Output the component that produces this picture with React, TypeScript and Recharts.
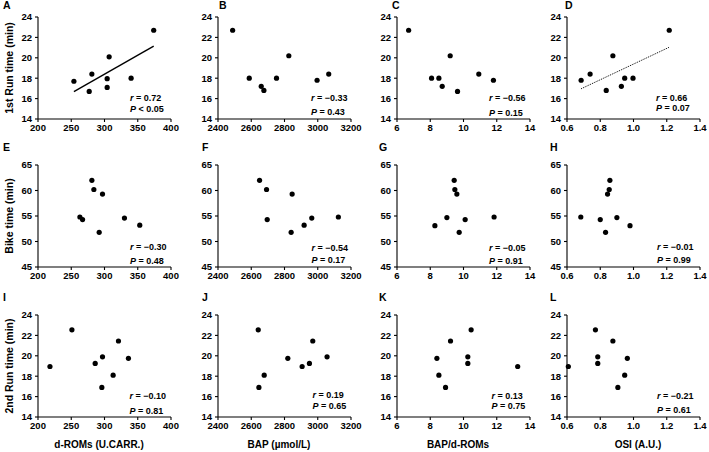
import React from 'react';
import { ScatterChart, Scatter, XAxis, YAxis, ReferenceLine } from 'recharts';

// ---- tick labels ----
const dromsTicks = [200, 250, 300, 350, 400];
const bapTicks = [2400, 2600, 2800, 3000, 3200];
const ratioTicks = [6, 8, 10, 12, 14];
const osiTicks = [0.6, 0.8, 1.0, 1.2, 1.4];
const runTicks = [14, 16, 18, 20, 22, 24];
const bikeTicks = [45, 50, 55, 60, 65];

// ---- row 1: 1st Run time ----
const dromsA = [254, 277, 281, 304, 304, 307, 340, 374];
const run1A = [17.7, 16.7, 18.4, 17.95, 17.1, 20.1, 18.0, 22.7];
const bapB = [2488, 2588, 2660, 2676, 2752, 2826, 2996, 3066];
const run1B = [22.7, 18.0, 17.2, 16.8, 18.0, 20.2, 17.8, 18.4];
const ratioC = [6.7, 8.08, 8.52, 8.72, 9.2, 9.64, 10.92, 11.8];
const run1C = [22.7, 18.0, 18.0, 17.2, 20.2, 16.7, 18.4, 17.8];
const osiD = [0.685, 0.739, 0.836, 0.876, 0.927, 0.947, 0.997, 1.215];
const run1D = [17.8, 18.4, 16.8, 20.2, 17.2, 18.0, 18.0, 22.7];

// ---- row 2: Bike time ----
const dromsE = [263, 267, 281, 284, 292, 297, 330, 353];
const bikeE = [54.8, 54.3, 62.0, 60.2, 51.8, 59.3, 54.6, 53.2];
const bapF = [2650, 2692, 2696, 2840, 2846, 2918, 2964, 3124];
const bikeF = [62.0, 60.2, 54.3, 51.8, 59.3, 53.2, 54.6, 54.8];
const ratioG = [8.28, 9.0, 9.44, 9.48, 9.6, 9.74, 10.1, 11.84];
const bikeG = [53.1, 54.7, 62.0, 60.2, 59.3, 51.8, 54.3, 54.8];
const osiH = [0.683, 0.8, 0.832, 0.844, 0.854, 0.858, 0.9, 0.979];
const bikeH = [54.8, 54.3, 51.8, 59.3, 60.2, 62.0, 54.7, 53.1];

// ---- row 3: 2nd Run time ----
const dromsI = [218, 251, 286, 297, 296, 313, 321, 336];
const run2I = [18.95, 22.55, 19.25, 19.9, 16.9, 18.1, 21.45, 19.75];
const bapJ = [2642, 2646, 2678, 2820, 2906, 2950, 2970, 3056];
const run2J = [22.55, 16.9, 18.1, 19.75, 18.95, 19.25, 21.45, 19.9];
const ratioK = [8.4, 8.52, 8.92, 9.22, 10.26, 10.26, 10.46, 13.26];
const run2K = [19.75, 18.1, 16.9, 21.45, 19.9, 19.25, 22.55, 18.95];
const osiL = [0.608, 0.771, 0.785, 0.785, 0.876, 0.906, 0.947, 0.963];
const run2L = [18.95, 22.55, 19.9, 19.25, 21.45, 16.9, 18.1, 19.75];

// ---- statistics text ----
const panelLetters = ['A', 'B', 'C', 'D', 'E', 'F', 'G', 'H', 'I', 'J', 'K', 'L'];
const rValues = ['0.72', '−0.33', '−0.56', '0.66', '−0.30', '−0.54', '−0.05', '−0.01', '−0.10', '0.19', '0.13', '−0.21'];
const pOps = ['<', '=', '=', '=', '=', '=', '=', '=', '=', '=', '=', '='];
const pValues = ['0.05', '0.43', '0.15', '0.07', '0.48', '0.17', '0.91', '0.99', '0.81', '0.65', '0.75', '0.61'];
const fits = ['solid', null, null, 'dotted', null, null, null, null, null, null, null, null];

const yTitles = ['1st Run time (min)', 'Bike time (min)', '2nd Run time (min)'];
const xTitles = ['d-ROMs (U.CARR.)', 'BAP (µmol/L)', 'BAP/d-ROMs', 'OSI (A.U.)'];

const panelData = [
  [dromsA, run1A], [bapB, run1B], [ratioC, run1C], [osiD, run1D],
  [dromsE, bikeE], [bapF, bikeF], [ratioG, bikeG], [osiH, bikeH],
  [dromsI, run2I], [bapJ, run2J], [ratioK, run2K], [osiL, run2L],
];
const colXTicks = [dromsTicks, bapTicks, ratioTicks, osiTicks];
const rowYTicks = [runTicks, bikeTicks, runTicks];
const colXDec = [0, 0, 0, 1];

// ---- layout ----
const FONT = '"Liberation Sans", Arial, Helvetica, sans-serif';
const colLeft = [38, 218, 397, 567];
const PW = 133;
const rowTop = [17, 165, 315];
const PH = 102;
const letterPos = [
  [3, 5], [219, 5], [392, 5], [565, 5],
  [3, 147], [202, 147], [379, 147], [550, 147],
  [3, 297], [202, 297], [379, 297], [550, 297],
];
const statDx = [92, 93, 92, 89, 92, 93.5, 92, 90, 91.5, 94.5, 94.5, 90];
const rAbove = [21, 21, 21, 21.5, 20, 19.3, 19.3, 20, 21, 22.7, 21.7, 21.7];
const pAbove = [10, 7, 6.3, 11.5, 6, 7.7, 6.7, 7.7, 6.7, 11.5, 11.2, 7.7];
const xTitleX = [99, 279, 458, 638];

function fitLine(xs: number[], ys: number[]) {
  const n = xs.length;
  const mx = xs.reduce((a, b) => a + b, 0) / n;
  const my = ys.reduce((a, b) => a + b, 0) / n;
  let sxy = 0, sxx = 0;
  for (let i = 0; i < n; i++) {
    sxy += (xs[i] - mx) * (ys[i] - my);
    sxx += (xs[i] - mx) * (xs[i] - mx);
  }
  const b = sxy / sxx;
  const a = my - b * mx;
  const x1 = Math.min(...xs);
  const x2 = Math.max(...xs);
  return [{ x: x1, y: a + b * x1 }, { x: x2, y: a + b * x2 }];
}

const Dot = (props: any) => <circle cx={props.cx} cy={props.cy} r={2.6} fill="#000" />;

function Panel({ idx }: { idx: number }) {
  const row = Math.floor(idx / 4);
  const col = idx % 4;
  const [xs, ys] = panelData[idx];
  const data = xs.map((x, i) => ({ x, y: ys[i] }));
  const xTicks = colXTicks[col];
  const yTicks = rowYTicks[row];
  const ML = 40, MT = 10, MR = 22, MB = 25;
  const fit = fits[idx];
  const tickStyle = { fill: '#000', fontSize: 9.5, fontWeight: 'bold', fontFamily: FONT };
  return (
    <div style={{ position: 'absolute', left: colLeft[col] - ML, top: rowTop[row] - MT }}>
      <ScatterChart width={PW + ML + MR} height={PH + MT + MB} margin={{ top: MT, right: MR, left: 0, bottom: 0 }}>
        <XAxis
          type="number"
          dataKey="x"
          domain={[xTicks[0], xTicks[xTicks.length - 1]]}
          ticks={xTicks}
          interval={0}
          height={MB}
          tickSize={3}
          tickMargin={2.5}
          tickFormatter={(v: number) => v.toFixed(colXDec[col])}
          axisLine={{ stroke: '#000', strokeWidth: 1.1 }}
          tickLine={{ stroke: '#000', strokeWidth: 1.1 }}
          tick={tickStyle}
        />
        <YAxis
          type="number"
          dataKey="y"
          domain={[yTicks[0], yTicks[yTicks.length - 1]]}
          ticks={yTicks}
          interval={0}
          width={ML}
          tickSize={3}
          tickMargin={3}
          axisLine={{ stroke: '#000', strokeWidth: 1.1 }}
          tickLine={{ stroke: '#000', strokeWidth: 1.1 }}
          tick={tickStyle}
        />
        {fit && (
          <ReferenceLine
            segment={fitLine(xs, ys)}
            stroke="#000"
            strokeWidth={fit === 'solid' ? 1.4 : 1}
            strokeDasharray={fit === 'dotted' ? '1 1' : undefined}
          />
        )}
        <Scatter data={data} shape={Dot} isAnimationActive={false} />
      </ScatterChart>
    </div>
  );
}

export default function App() {
  const idxs = Array.from({ length: 12 }, (_, i) => i);
  return (
    <div style={{ position: 'absolute', left: 0, top: 0, width: 709, height: 452, background: '#fff', overflow: 'hidden' }}>
      {idxs.map((i) => <Panel key={i} idx={i} />)}
      <svg width={709} height={452} style={{ position: 'absolute', left: 0, top: 0, pointerEvents: 'none' }}>
        <g fontFamily={FONT} fontWeight="bold" fill="#000">
          {idxs.map((i) => (
            <text key={'l' + i} x={letterPos[i][0]} y={letterPos[i][1] + 3.6} fontSize={10.5}>{panelLetters[i]}</text>
          ))}
          {idxs.map((i) => {
            const row = Math.floor(i / 4);
            const col = i % 4;
            const x = colLeft[col] + statDx[i];
            const axisY = rowTop[row] + PH;
            return (
              <g key={'s' + i} fontSize={9}>
                <text x={x} y={axisY - rAbove[i] + 3.2}>
                  <tspan fontStyle="italic">r</tspan>{' = ' + rValues[i]}
                </text>
                <text x={x} y={axisY - pAbove[i] + 3.2}>
                  <tspan fontStyle="italic">P</tspan>{' ' + pOps[i] + ' ' + pValues[i]}
                </text>
              </g>
            );
          })}
          {yTitles.map((t, r) => {
            const cy = rowTop[r] + PH / 2;
            return (
              <text key={'y' + r} x={0} y={0} fontSize={10.5} textAnchor="middle" transform={`translate(12.5, ${cy}) rotate(-90)`}>{t}</text>
            );
          })}
          {xTitles.map((t, c) => (
            <text key={'x' + c} x={xTitleX[c]} y={447.5} fontSize={10} textAnchor="middle">{t}</text>
          ))}
        </g>
      </svg>
    </div>
  );
}
